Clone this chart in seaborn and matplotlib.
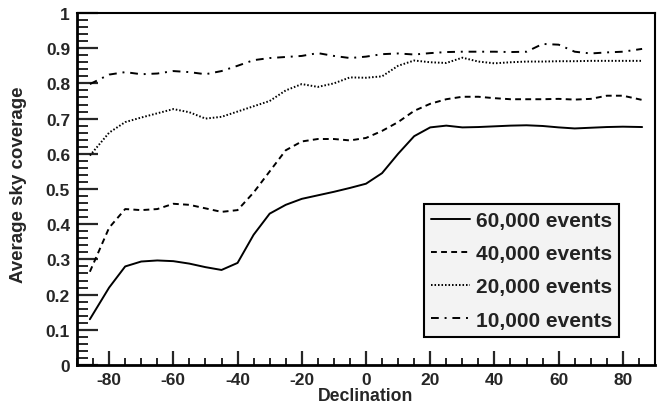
import numpy as np
import pandas as pd
import matplotlib
matplotlib.use("Agg")
import matplotlib.pyplot as plt
import seaborn as sns
from matplotlib.ticker import MultipleLocator, FuncFormatter

declination = [-86, -80, -75, -70, -65, -60, -55, -50, -45, -40, -35, -30, -25, -20,
               -15, -10, -5, 0, 5, 10, 15, 20, 25, 30, 35, 40, 45, 50, 55, 60, 65,
               70, 75, 80, 86]
cov_60k = [0.13, 0.22, 0.28, 0.294, 0.297, 0.295, 0.288, 0.278, 0.27, 0.29, 0.37, 0.43,
           0.455, 0.472, 0.482, 0.492, 0.503, 0.515, 0.545, 0.60, 0.65, 0.675, 0.68,
           0.675, 0.676, 0.678, 0.68, 0.681, 0.679, 0.675, 0.672, 0.674, 0.676, 0.677, 0.676]
cov_40k = [0.265, 0.39, 0.443, 0.44, 0.443, 0.458, 0.455, 0.445, 0.435, 0.44, 0.49, 0.55,
           0.61, 0.635, 0.642, 0.642, 0.638, 0.645, 0.665, 0.69, 0.722, 0.742, 0.755,
           0.762, 0.762, 0.758, 0.755, 0.755, 0.755, 0.756, 0.754, 0.756, 0.765, 0.765, 0.753]
cov_20k = [0.595, 0.66, 0.69, 0.703, 0.715, 0.727, 0.718, 0.70, 0.705, 0.72, 0.735, 0.75,
           0.78, 0.798, 0.79, 0.80, 0.817, 0.816, 0.82, 0.85, 0.865, 0.86, 0.858, 0.873,
           0.862, 0.857, 0.86, 0.862, 0.862, 0.863, 0.863, 0.864, 0.864, 0.864, 0.864]
cov_10k = [0.798, 0.825, 0.832, 0.826, 0.828, 0.835, 0.832, 0.826, 0.835, 0.85, 0.866,
           0.872, 0.875, 0.878, 0.886, 0.878, 0.872, 0.876, 0.883, 0.885, 0.882, 0.886,
           0.889, 0.89, 0.89, 0.89, 0.889, 0.89, 0.912, 0.91, 0.89, 0.885, 0.888, 0.89, 0.898]
labels = ["60,000 events", "40,000 events", "20,000 events", "10,000 events"]
series = [cov_60k, cov_40k, cov_20k, cov_10k]

rows = []
for lab, vals in zip(labels, series):
    for d, v in zip(declination, vals):
        rows.append({"Declination": d, "coverage": v, "series": lab})
df = pd.DataFrame(rows)

sns.set_theme(style="white")
plt.rcParams['font.family'] = ['Liberation Sans', 'DejaVu Sans']
plt.rcParams['font.weight'] = 'bold'
plt.rcParams['axes.unicode_minus'] = False

fig = plt.figure(figsize=(6.68, 4.10), dpi=100)
ax = fig.add_axes([0.1153, 0.1073, 0.8652, 0.8586])

styles = ["-", (0, (3.0, 2.2)), (0, (0.8, 1.0)), (0, (4, 3, 1, 3))]
for lab, ls in zip(labels, styles):
    sub = df[df["series"] == lab]
    sns.lineplot(data=sub, x="Declination", y="coverage", ax=ax, color="black",
                 linestyle=ls, linewidth=1.4, label=lab)

ax.set_xlim(-90, 90)
ax.set_ylim(0, 1)
ax.xaxis.set_major_locator(MultipleLocator(20))
ax.xaxis.set_minor_locator(MultipleLocator(5))
ax.yaxis.set_major_locator(MultipleLocator(0.1))
ax.yaxis.set_minor_locator(MultipleLocator(0.02))
ax.yaxis.set_major_formatter(FuncFormatter(lambda v, p: "%g" % round(v, 2)))
ax.xaxis.set_major_formatter(FuncFormatter(lambda v, p: "%d" % round(v)))
ax.tick_params(axis="x", which="major", direction="in", length=10, width=1.6,
               bottom=True, top=False, labelsize=12.5, pad=5)
ax.tick_params(axis="x", which="minor", direction="in", length=5, width=1.4,
               bottom=True, top=False)
ax.tick_params(axis="y", which="major", direction="in", length=15, width=1.6,
               left=True, right=False, labelsize=12.5, pad=5)
ax.tick_params(axis="y", which="minor", direction="in", length=8, width=1.4,
               left=True, right=False)
for lbl in ax.get_xticklabels() + ax.get_yticklabels():
    lbl.set_fontweight("bold")

for side, sp in ax.spines.items():
    sp.set_color("black")
    sp.set_linewidth(2.0 if side in ("left", "bottom") else 1.5)

ax.set_xlabel("Declination", fontsize=12.7, fontweight="bold")
ax.xaxis.set_label_coords(0.5, -0.062)
ax.xaxis.label.set_va("top")
ax.set_ylabel("Average sky coverage", fontsize=13.5, fontweight="bold")
ax.yaxis.set_label_coords(-0.087, 0.514)

leg = ax.legend(loc="lower right", bbox_to_anchor=(0.938, 0.08), borderaxespad=0,
                frameon=True, fancybox=False, fontsize=15, handlelength=1.9,
                handletextpad=0.25, labelspacing=0.68, borderpad=0.35)
leg.get_frame().set_facecolor("#f3f3f3")
leg.get_frame().set_edgecolor("black")
leg.get_frame().set_linewidth(1.5)
leg.get_frame().set_alpha(1)
for t in leg.get_texts():
    t.set_fontweight("bold")
    t.set_color("#222222")

fig.savefig("out.png", dpi=100)
